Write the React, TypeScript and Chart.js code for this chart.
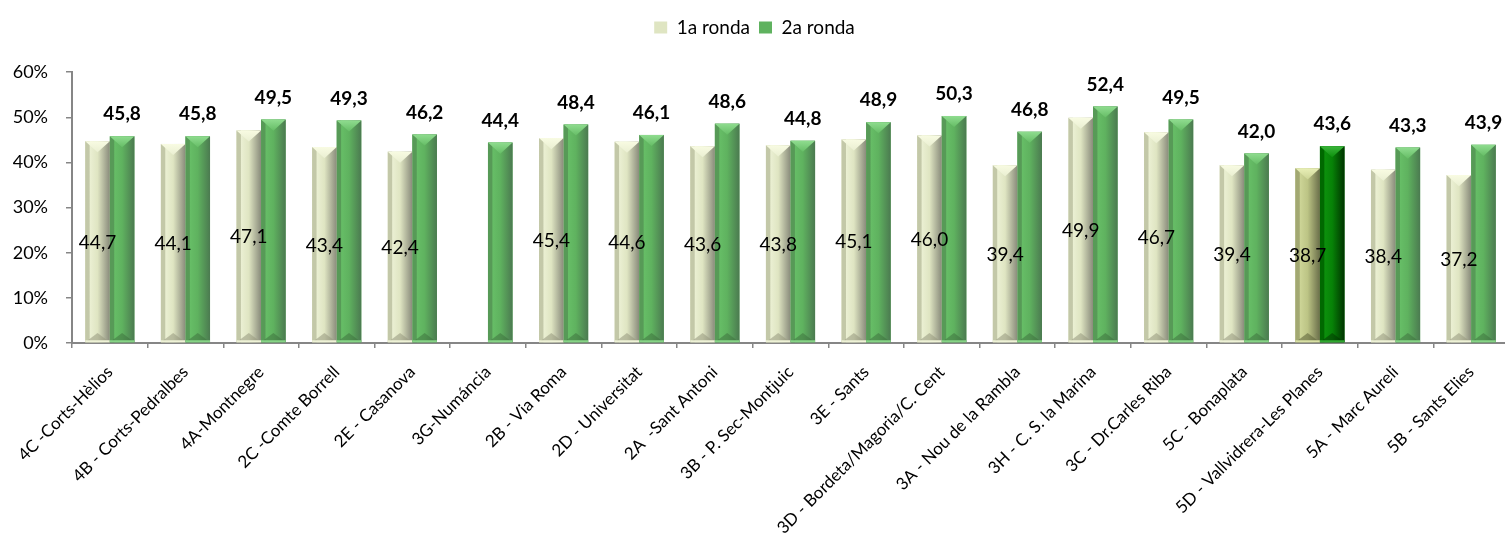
import React, { useEffect, useRef } from "react";
import { Chart, registerables } from "chart.js";

Chart.register(...registerables);

const categories: string[] = [
  "4C -Corts-Hèlios",
  "4B - Corts-Pedralbes",
  "4A-Montnegre",
  "2C -Comte Borrell",
  "2E - Casanova",
  "3G-Numáncia",
  "2B - Via Roma",
  "2D - Universitat",
  "2A  -Sant Antoni",
  "3B - P. Sec-Montjuic",
  "3E - Sants",
  "3D - Bordeta/Magoria/C. Cent",
  "3A - Nou de la Rambla",
  "3H - C. S. la Marina",
  "3C - Dr.Carles Riba",
  "5C - Bonaplata",
  "5D - Vallvidrera-Les Planes",
  "5A - Marc Aureli",
  "5B - Sants Elies",
];

const ronda1: (number | null)[] = [
  44.7, 44.1, 47.1, 43.4, 42.4, null, 45.4, 44.6, 43.6, 43.8, 45.1, 46.0, 39.4, 49.9, 46.7, 39.4, 38.7, 38.4, 37.2,
];

const ronda2: number[] = [
  45.8, 45.8, 49.5, 49.3, 46.2, 44.4, 48.4, 46.1, 48.6, 44.8, 48.9, 50.3, 46.8, 52.4, 49.5, 42.0, 43.6, 43.3, 43.9,
];

const highlightIndex = 16;

const yTicks: number[] = [0, 10, 20, 30, 40, 50, 60];

type Pal = { edge: string; light: string; body: string; dark: string; top: string; bottom: string; line: string };

const pal1: Pal = { edge: "#c3c8a8", light: "#eaefd2", body: "#dfe5c2", dark: "#898b7b", top: "#f8fbe2", bottom: "rgba(150,152,125,0.55)", line: "#eef2d6" };
const pal2: Pal = { edge: "#579a57", light: "#66bd66", body: "#5fb25f", dark: "#4b7a50", top: "#8fdc8f", bottom: "rgba(60,110,60,0.5)", line: "#86d486" };
const pal1h: Pal = { edge: "#a2a872", light: "#ccd496", body: "#bcc485", dark: "#6a6e4a", top: "#e8efb6", bottom: "rgba(90,95,55,0.55)", line: "#d8e0a4" };
const pal2h: Pal = { edge: "#006800", light: "#0c900c", body: "#078207", dark: "#003300", top: "#3bb53b", bottom: "rgba(0,50,0,0.5)", line: "#30a830" };

function palette(di: number, i: number): Pal {
  if (i === highlightIndex) return di === 0 ? pal1h : pal2h;
  return di === 0 ? pal1 : pal2;
}

const bevelPlugin = {
  id: "bevel",
  afterDatasetsDraw(chart: any) {
    const ctx: CanvasRenderingContext2D = chart.ctx;
    ctx.save();
    chart.data.datasets.forEach((ds: any, di: number) => {
      const meta = chart.getDatasetMeta(di);
      meta.data.forEach((el: any, i: number) => {
        const v = ds.data[i];
        if (v == null) return;
        const { x, y, base, width } = el.getProps(["x", "y", "base", "width"], true);
        const l = x - width / 2;
        const r = x + width / 2;
        const h = base - y;
        const p = palette(di, i);
        const g = ctx.createLinearGradient(l, 0, r, 0);
        g.addColorStop(0, p.edge);
        g.addColorStop(0.16, p.edge);
        g.addColorStop(0.2, p.light);
        g.addColorStop(0.5, p.body);
        g.addColorStop(1, p.dark);
        ctx.fillStyle = g;
        ctx.fillRect(l, y, width, h);
        const t = Math.min(width * 0.45, h / 2);
        const gt = ctx.createLinearGradient(0, y, 0, y + t);
        gt.addColorStop(0, p.top);
        gt.addColorStop(1, p.light);
        ctx.fillStyle = gt;
        ctx.beginPath();
        ctx.moveTo(l, y);
        ctx.lineTo(r, y);
        ctx.lineTo(x, y + t);
        ctx.closePath();
        ctx.fill();
        const tb = Math.min(width * 0.38, h / 2);
        ctx.fillStyle = p.bottom;
        ctx.beginPath();
        ctx.moveTo(l, base);
        ctx.lineTo(r, base);
        ctx.lineTo(x, base - tb);
        ctx.closePath();
        ctx.fill();
        ctx.fillStyle = p.line;
        ctx.fillRect(l, base - 2, width, 2);
      });
    });
    ctx.restore();
  },
};

const labelPlugin = {
  id: "valueLabels",
  afterDatasetsDraw(chart: any) {
    const ctx: CanvasRenderingContext2D = chart.ctx;
    ctx.save();
    ctx.fillStyle = "#000";
    ctx.textAlign = "center";
    ctx.textBaseline = "middle";
    chart.data.datasets.forEach((ds: any, di: number) => {
      const meta = chart.getDatasetMeta(di);
      meta.data.forEach((el: any, i: number) => {
        const v = ds.data[i];
        if (v == null) return;
        const { x, y, base } = el.getProps(["x", "y", "base"], true);
        const txt = v.toFixed(1).replace(".", ",");
        if (di === 0) {
          ctx.font = "19px Lato";
          ctx.fillText(txt, x, (y + base) / 2 + 1);
        } else {
          ctx.font = "bold 19px Lato";
          ctx.fillText(txt, x, y - 22);
        }
      });
    });
    ctx.restore();
  },
};

export default function App() {
  const ref = useRef<HTMLCanvasElement | null>(null);
  useEffect(() => {
    document.body.style.margin = "0";
    const canvas = ref.current;
    if (!canvas) return;
    Chart.defaults.font.family = "Lato";
    const chart = new Chart(canvas, {
      type: "bar",
      data: {
        labels: categories,
        datasets: [
          {
            label: "1a ronda",
            data: ronda1 as any,
            backgroundColor: categories.map((_, i) => palette(0, i).body),
            borderWidth: 0,
            categoryPercentage: 0.65,
            barPercentage: 1.0,
          },
          {
            label: "2a ronda",
            data: ronda2,
            backgroundColor: categories.map((_, i) => palette(1, i).body),
            borderWidth: 0,
            categoryPercentage: 0.65,
            barPercentage: 1.0,
          },
        ],
      },
      options: {
        responsive: false,
        animation: false,
        devicePixelRatio: 1,
        layout: { padding: { top: 9, left: 0, right: 0, bottom: 0 } },
        plugins: {
          tooltip: { enabled: false },
          legend: {
            display: true,
            position: "top",
            labels: {
              color: "#000",
              font: { size: 19, family: "Lato" },
              boxWidth: 13,
              boxHeight: 12,
              padding: 9,
              generateLabels: () => [
                { text: "1a ronda", fillStyle: pal1.body, strokeStyle: pal1.dark, lineWidth: 0, datasetIndex: 0, hidden: false } as any,
                { text: "2a ronda", fillStyle: pal2.body, strokeStyle: pal2.dark, lineWidth: 0, datasetIndex: 1, hidden: false } as any,
              ],
            },
          },
          title: {
            display: true,
            text: "",
            weight: 500,
            font: { size: 1 },
            padding: { top: 24, bottom: 0 },
          } as any,
        },
        scales: {
          x: {
            grid: {
              display: true,
              offset: true,
              drawOnChartArea: false,
              drawTicks: true,
              tickLength: 5,
              color: "#868686",
              lineWidth: 1.5,
            },
            border: { color: "#868686", width: 2 },
            ticks: {
              color: "#000",
              font: { size: 17, family: "Lato" },
              minRotation: 45,
              maxRotation: 45,
              autoSkip: false,
              padding: 14,
            },
            afterFit: (s: any) => {
              s.height = 193;
            },
          },
          y: {
            min: 0,
            max: 60,
            afterBuildTicks: (s: any) => {
              s.ticks = yTicks.map((v) => ({ value: v }));
            },
            grid: {
              display: true,
              drawOnChartArea: false,
              drawTicks: true,
              tickLength: 6,
              color: "#868686",
              lineWidth: 1.5,
            },
            border: { color: "#868686", width: 2 },
            ticks: {
              color: "#000",
              font: { size: 18, family: "Lato" },
              padding: 18,
              callback: (v: any) => `${v}%`,
            },
            afterFit: (s: any) => {
              s.width = 72;
            },
          },
        },
      },
      plugins: [bevelPlugin, labelPlugin],
    });
    return () => chart.destroy();
  }, []);
  return (
    <div style={{ width: 1505, height: 536, overflow: "hidden", position: "relative" }}>
      <canvas ref={ref} width={1509} height={536} style={{ display: "block" }} />
    </div>
  );
}
